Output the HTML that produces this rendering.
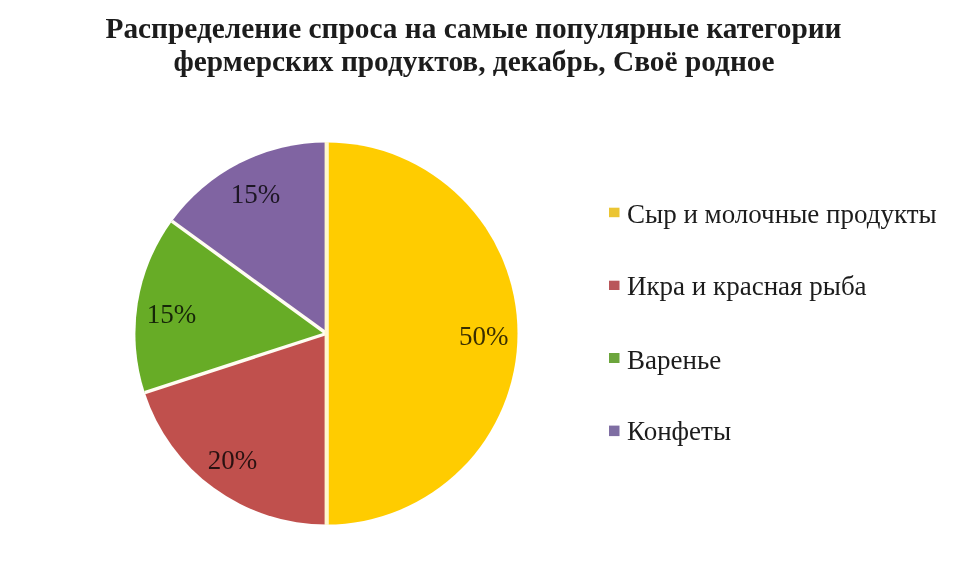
<!DOCTYPE html>
<html lang="ru">
<head>
<meta charset="utf-8">
<title>Распределение спроса</title>
<style>
html,body{margin:0;padding:0;background:#fff;}
body{width:960px;height:570px;overflow:hidden;position:relative;font-family:"Liberation Serif",serif;color:#111;}
svg{position:absolute;left:0;top:0;display:block;}
text{filter:blur(0.4px);}
.title{font-family:"Liberation Serif",serif;font-weight:bold;font-size:29.35px;fill:#1c1c1c;}
.lbl{font-family:"Liberation Serif",serif;font-size:27px;fill:#000;fill-opacity:0.78;}
.leg{font-family:"Liberation Serif",serif;font-size:27px;fill:#1c1c1c;}
</style>
</head>
<body>
<svg width="960" height="570" viewBox="0 0 960 570">
  <rect width="960" height="570" fill="#ffffff"/>
  <text class="title" x="473.5" y="37.5" text-anchor="middle">Распределение спроса на самые популярные категории</text>
  <text class="title" x="474" y="70.8" text-anchor="middle">фермерских продуктов, декабрь, Своё родное</text>

  <g>
    <path d="M326.5 333.5 L326.50 142.40 A191.1 191.1 0 0 1 326.50 524.60 Z" fill="#ffcc00"/>
    <path d="M326.5 333.5 L326.50 524.60 A191.1 191.1 0 0 1 144.75 392.55 Z" fill="#c0504d"/>
    <path d="M326.5 333.5 L144.75 392.55 A191.1 191.1 0 0 1 171.90 221.17 Z" fill="#67ac26"/>
    <path d="M326.5 333.5 L171.90 221.17 A191.1 191.1 0 0 1 326.50 142.40 Z" fill="#8064a2"/>
  </g>
  <g stroke="#fffdf2" stroke-width="3.4" stroke-linecap="butt">
    <line x1="326.5" y1="333.5" x2="144.75" y2="392.55"/>
    <line x1="326.5" y1="333.5" x2="171.90" y2="221.17"/>
  </g>
  <line x1="326.7" y1="141.9" x2="326.7" y2="525.1" stroke="#fff7cf" stroke-width="4.2"/>

  <text class="lbl" x="483.7" y="345" text-anchor="middle">50%</text>
  <text class="lbl" x="232.6" y="469.2" text-anchor="middle">20%</text>
  <text class="lbl" x="171.4" y="323" text-anchor="middle">15%</text>
  <text class="lbl" x="255.6" y="202.8" text-anchor="middle">15%</text>

  <rect x="609" y="207.7" width="10.5" height="9.5" fill="#ebc533"/>
  <rect x="609" y="280.7" width="10.5" height="9.3" fill="#b9565a"/>
  <rect x="609" y="353" width="10.5" height="10" fill="#6ca53c"/>
  <rect x="609" y="425.6" width="10.5" height="10.5" fill="#7f6ea3"/>
  <text class="leg" x="627" y="222.5">Сыр и молочные продукты</text>
  <text class="leg" x="627" y="295.2">Икра и красная рыба</text>
  <text class="leg" x="627" y="368.7">Варенье</text>
  <text class="leg" x="627" y="440.2">Конфеты</text>
</svg>
</body>
</html>
